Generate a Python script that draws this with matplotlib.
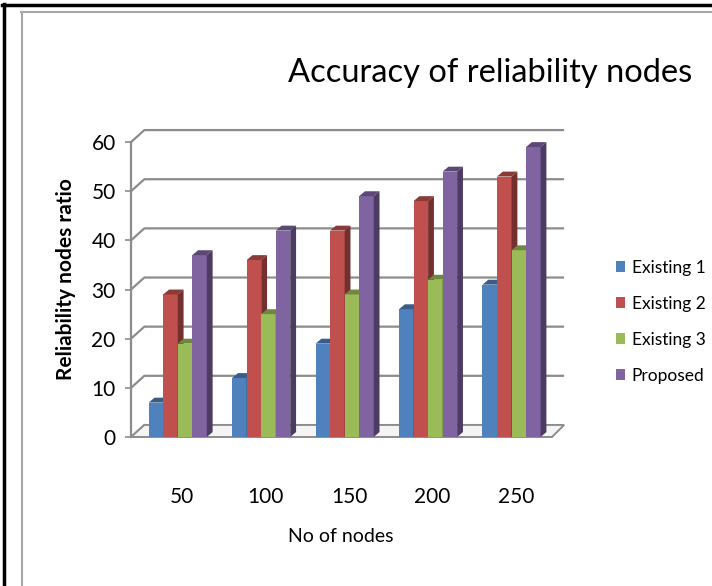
import matplotlib

matplotlib.use("Agg")
import matplotlib.pyplot as plt
import numpy as np
from matplotlib.colors import to_rgb
from matplotlib.lines import Line2D
from matplotlib.patches import Patch, Polygon

plt.rcParams["font.family"] = ["Lato", "DejaVu Sans"]

nodes = ["50", "100", "150", "200", "250"]
series = ["Existing 1", "Existing 2", "Existing 3", "Proposed"]
existing1 = [7, 12, 19, 26, 31]
existing2 = [29, 36, 42, 48, 53]
existing3 = [19, 25, 29, 32, 38]
proposed = [37, 42, 49, 54, 59]
colors = ["#4F81BD", "#C0504D", "#9BBB59", "#8064A2"]
yticks = [0, 10, 20, 30, 40, 50, 60]

# pseudo-3D geometry in data units
X_FRONT, X_BACK, X_END = -0.59, -0.43, 4.60
WALL_DY = 2.45
BAR_W = 0.174
BAR_DX, BAR_DY = 0.07, 1.0
GRID = "#8c8c8c"


def shade(c, f):
    r, g, b = to_rgb(c)
    return (r * f, g * f, b * f)


fig = plt.figure(figsize=(7.12, 5.86), dpi=100)
ax = fig.add_axes([131 / 712, 1 - 445 / 586, (575 - 131) / 712, (445 - 120) / 586])
ax.set_xlim(X_FRONT, (575 - 180) / 83.5)
ax.set_ylim(-1.63, 64.5)

# back wall gridlines with the diagonal run from the front axis
for v in yticks[1:]:
    ax.plot([X_FRONT, X_BACK, X_END], [v, v + WALL_DY, v + WALL_DY],
            color=GRID, lw=1.6, zorder=0, solid_capstyle="butt")
ax.plot([X_FRONT, X_BACK], [0, WALL_DY], color=GRID, lw=1.4, zorder=0)

# floor plate
floor = Polygon([(X_FRONT, 0), (4.455, 0), (X_END, WALL_DY), (X_BACK, WALL_DY)],
                closed=True, facecolor="#f4f4f4", edgecolor=GRID, lw=1.4, zorder=0.5)
ax.add_patch(floor)

x = np.arange(len(nodes))
values = [existing1, existing2, existing3, proposed]
for k, (vals, c) in enumerate(zip(values, colors)):
    left = x - 0.03 - 2 * BAR_W + k * BAR_W
    z = 2 + k
    ax.bar(left, vals, width=BAR_W, align="edge", color=c, linewidth=0, zorder=z,
           label=series[k])
    for l, v in zip(left, vals):
        top = Polygon([(l, v), (l + BAR_W, v), (l + BAR_W + BAR_DX, v + BAR_DY),
                       (l + BAR_DX, v + BAR_DY)], closed=True,
                      facecolor=shade(c, 0.72), linewidth=0, zorder=z)
        side = Polygon([(l + BAR_W, 0), (l + BAR_W + BAR_DX, BAR_DY),
                        (l + BAR_W + BAR_DX, v + BAR_DY), (l + BAR_W, v)], closed=True,
                       facecolor=shade(c, 0.6), linewidth=0, zorder=z)
        ax.add_patch(top)
        ax.add_patch(side)

for s in ["top", "right", "bottom"]:
    ax.spines[s].set_visible(False)
ax.spines["left"].set_bounds(0, 60)
ax.spines["left"].set_color(GRID)
ax.spines["left"].set_linewidth(1.6)
ax.set_yticks(yticks)
ax.tick_params(axis="y", colors=GRID, length=4, width=1.2, pad=7, labelsize=15,
               labelcolor="black")
ax.set_xticks(x + 0.025)
ax.set_xticklabels(nodes)
ax.tick_params(axis="x", length=0, pad=30, labelsize=15)

ax.set_ylabel("Reliability nodes ratio", fontweight="bold", fontsize=15)
ax.yaxis.set_label_coords(-0.125, 0.51)
ax.set_xlabel("No of nodes", fontsize=14)
ax.xaxis.set_label_coords(0.473, -0.255)

fig.text(490 / 712, 1 - 73 / 586, "Accuracy of reliability nodes", fontsize=23.5,
         ha="center", va="center")

handles = [Patch(facecolor=c, edgecolor="none") for c in colors]
fig.legend(handles, series, loc="center left", bbox_to_anchor=(609 / 712, 1 - 322 / 586),
           frameon=False, fontsize=12.5, handlelength=0.55, handleheight=0.6,
           handletextpad=0.35, labelspacing=1.15, borderaxespad=0)

# page border and chart frame
fig.add_artist(Line2D([3.5 / 712, 3.5 / 712], [0, 1 - 4 / 586], color="black", lw=2.5))
fig.add_artist(Line2D([2 / 712, 1], [1 - 5 / 586, 1 - 5 / 586], color="black", lw=2.5))
fig.add_artist(Line2D([21.5 / 712, 21.5 / 712], [0, 1 - 11.5 / 586], color="#a6a6a6", lw=1.5))
fig.add_artist(Line2D([21 / 712, 1], [1 - 11.5 / 586, 1 - 11.5 / 586], color="#a6a6a6", lw=1.5))

fig.savefig("out.png", dpi=100)
